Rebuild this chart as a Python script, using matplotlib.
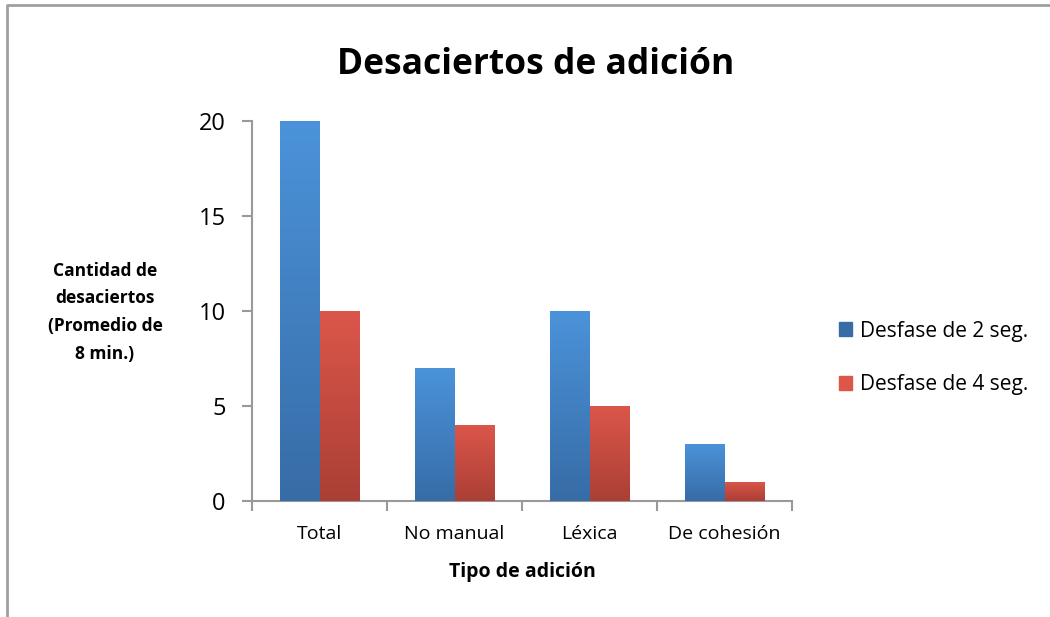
import matplotlib.pyplot as plt
import numpy as np
from matplotlib.colors import LinearSegmentedColormap
from matplotlib.patches import Rectangle

# Chart data
categories = ['Total', 'No manual', 'Léxica', 'De cohesión']
desfase_2 = [20, 7, 10, 3]
desfase_4 = [10, 4, 5, 1]
series_names = ['Desfase de 2 seg.', 'Desfase de 4 seg.']

plt.rcParams['font.family'] = ['Open Sans', 'DejaVu Sans']

fig = plt.figure(figsize=(10.5, 6.17), dpi=100)
ax = fig.add_axes([0.24, 0.188, 0.5143, 0.616])

# Gradient colours (top, bottom) for each series
grads = [('#4B93DA', '#376CA6'), ('#DC564A', '#AB3F36')]

x = np.arange(len(categories))
width = 0.295
for k, (vals, (c_top, c_bot)) in enumerate(zip([desfase_2, desfase_4], grads)):
    offs = (k - 0.5) * width
    bars = ax.bar(x + offs, vals, width, color=c_bot, linewidth=0, zorder=2)
    cmap = LinearSegmentedColormap.from_list('g%d' % k, [c_bot, c_top])
    grad = np.linspace(0, 1, 256).reshape(-1, 1)
    for b in bars:
        x0, y0 = b.get_x(), b.get_y()
        w, h = b.get_width(), b.get_height()
        im = ax.imshow(grad, cmap=cmap, origin='lower', aspect='auto',
                       extent=[x0, x0 + w, y0, y0 + h], zorder=3)
        im.set_clip_path(b)

ax.set_xlim(-0.5, len(categories) - 0.5)
ax.set_ylim(0, 20)
ax.set_yticks([0, 5, 10, 15, 20])
ax.set_xticks(x)
ax.set_xticklabels(categories, fontsize=14)
ax.tick_params(axis='y', labelsize=17, length=7, width=1.5, color='#999999', pad=12)
ax.tick_params(axis='x', length=0, pad=17)
# category boundary tick marks below the axis
ax.set_xticks(np.arange(len(categories) + 1) - 0.5, minor=True)
ax.tick_params(axis='x', which='minor', length=7, width=1.5, color='#999999')

for side in ['top', 'right']:
    ax.spines[side].set_visible(False)
for side in ['left', 'bottom']:
    ax.spines[side].set_color('#999999')
    ax.spines[side].set_linewidth(1.5)

ax.set_title('Desaciertos de adición', fontsize=25.5, fontweight='bold', pad=34, x=0.526)
ax.set_xlabel('Tipo de adición', fontsize=14, fontweight='bold', labelpad=14)
fig.text(0.1, 0.494, 'Cantidad de\ndesaciertos\n(Promedio de\n8 min.)', fontsize=12.5,
         fontweight='bold', ha='center', va='center', linespacing=1.7)

handles = [Rectangle((0, 0), 1, 1, color=grads[0][1]), Rectangle((0, 0), 1, 1, color=grads[1][0])]
fig.legend(handles, series_names, loc='center left', bbox_to_anchor=(0.781, 0.42),
           frameon=False, fontsize=15, handlelength=0.65, handleheight=0.65,
           handletextpad=0.35, labelspacing=1.55)

# outer frame of the chart area
fig.add_artist(plt.Line2D([0.0067, 0.0067, 1.0], [0.0, 0.992, 0.992],
                          transform=fig.transFigure, color='#a0a0a0', linewidth=2))

fig.savefig('out.png', dpi=100)
